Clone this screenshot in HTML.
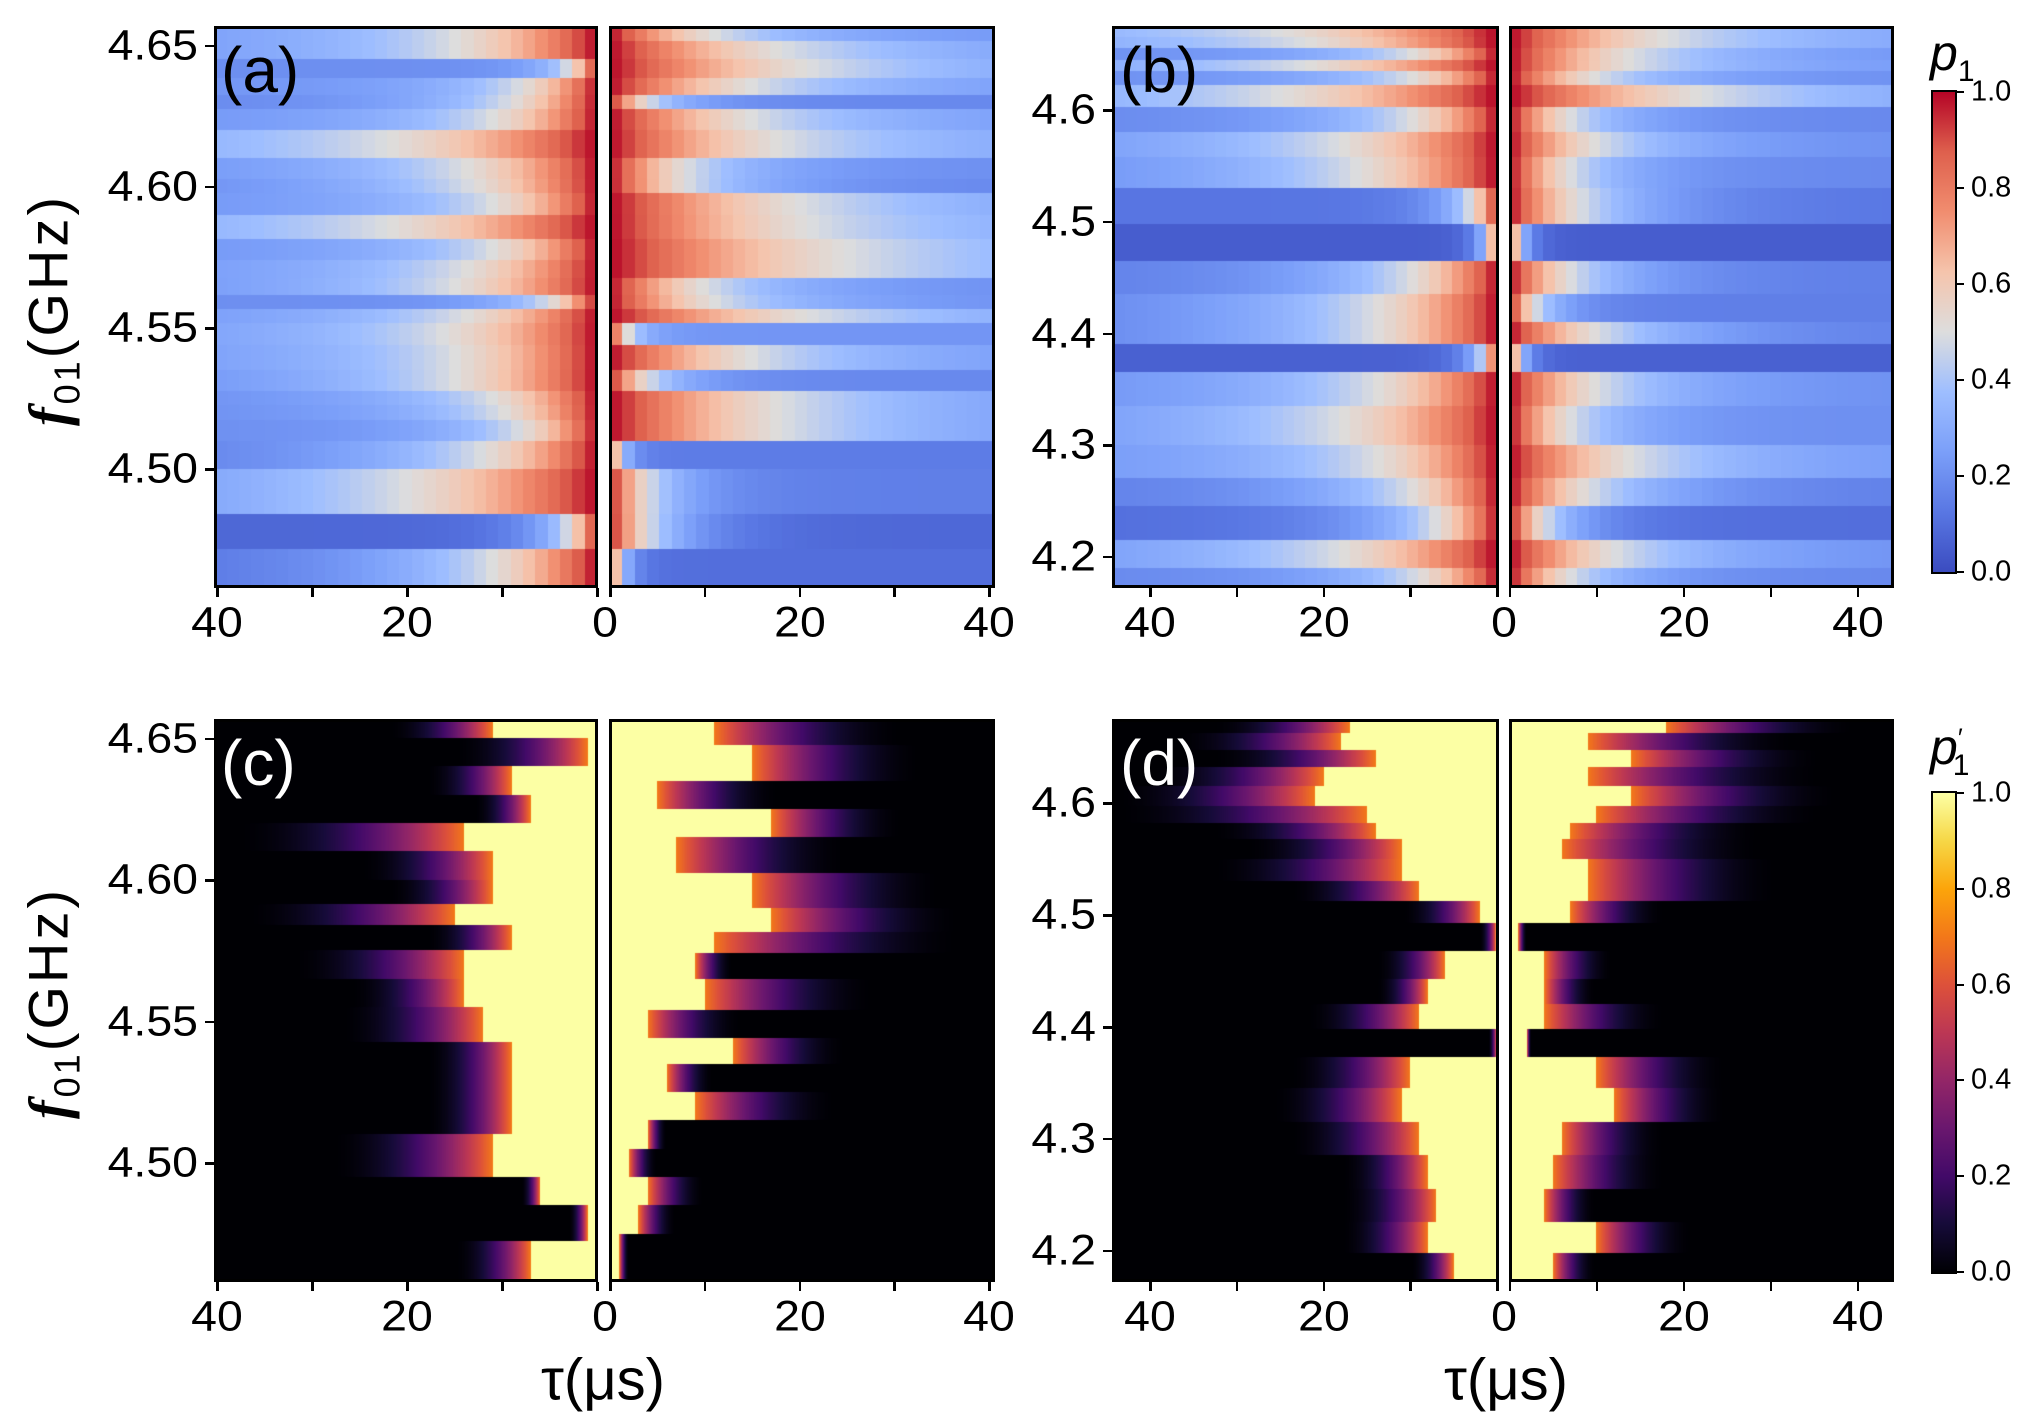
<!DOCTYPE html>
<html><head><meta charset="utf-8">
<style>
html,body{margin:0;padding:0;background:#fff;}
#root{position:relative;width:2030px;height:1422px;overflow:hidden;background:#fff;font-family:"Liberation Sans",Arial,sans-serif;color:#000;}
.abs{position:absolute;}
canvas{position:absolute;display:block;}
.frame{position:absolute;border:3px solid #000;box-sizing:border-box;pointer-events:none;}
.tl{position:absolute;font-size:43px;line-height:1;white-space:nowrap;transform-origin:center;}
.cbl{position:absolute;font-size:29px;line-height:1;white-space:nowrap;}
.tick{position:absolute;background:#000;}
.plab{position:absolute;font-size:64px;line-height:1;}
.cbar{position:absolute;border:2px solid #000;box-sizing:border-box;}
</style></head>
<body>
<div id="root">
  <div class="abs" id="ylab-top" style="left:52px;top:310px;transform:translate(-50%,-50%) rotate(-90deg);font-size:56px;white-space:nowrap;letter-spacing:3px;"><i style="font-family:'Liberation Serif',serif;font-weight:bold;">f</i><sub style="font-size:36px;">01</sub>(GHz)</div>
  <div class="abs" id="ylab-bot" style="left:52px;top:1003px;transform:translate(-50%,-50%) rotate(-90deg);font-size:56px;white-space:nowrap;letter-spacing:3px;"><i style="font-family:'Liberation Serif',serif;font-weight:bold;">f</i><sub style="font-size:36px;">01</sub>(GHz)</div>
  <div class="abs" style="left:603px;top:1380px;transform:translate(-50%,-50%);font-size:58px;white-space:nowrap;">τ(μs)</div>
  <div class="abs" style="left:1506px;top:1380px;transform:translate(-50%,-50%);font-size:58px;white-space:nowrap;">τ(μs)</div>

  <div class="cbar" style="left:1931px;top:90px;width:26px;height:484px;background:linear-gradient(to top,#3b4cc0 0%,#5977e3 12.5%,#7b9ff9 25%,#9ebeff 37.5%,#dddddd 50%,#f5c4ac 62.5%,#f18d6f 75%,#de604d 87.5%,#b40426 100%);"></div>
  <div class="cbar" style="left:1931px;top:791px;width:26px;height:483px;background:linear-gradient(to top,#000004 0%,#160b39 10%,#420a68 20%,#6a176e 30%,#932667 40%,#bc3754 50%,#dd513a 60%,#f37819 70%,#fca50a 80%,#f6d746 90%,#fcffa4 100%);"></div>
  <div class="abs" style="left:1930px;top:28px;font-size:50px;line-height:1;"><i>p</i><sub style="font-size:30px;">1</sub></div>
  <div class="abs" style="left:1930px;top:722px;font-size:50px;line-height:1;"><i>p</i><sup style="font-size:26px;">′</sup><sub style="font-size:30px;margin-left:-10px;">1</sub></div>
</div>
<script>
// ---------- data: panel (a) rows (GHz), crossover times (us), floor values ----------
const freqA = [4.655,4.648,4.642,4.635,4.63,4.625,4.615,4.605,4.6,4.595,4.585,4.578,4.57,4.565,4.558,4.555,4.548,4.54,4.53,4.525,4.52,4.515,4.505,4.495,4.49,4.478,4.465];
const crossA_left = [15,15,3,8,9,11,22,14,13,11,22,11,14,15,5,14,16,15,15,11,10,8,12,20,20,3,11];
const crossA_right = [11,18,21,15,4,15,18,8,8,20,21,25,25,10,11,21,2,15,4,18,18,18,1,4,4,4,1];
const floorA = [0.22,0.22,0.2,0.22,0.18,0.22,0.25,0.2,0.18,0.22,0.25,0.22,0.22,0.2,0.2,0.22,0.22,0.22,0.18,0.2,0.2,0.2,0.14,0.15,0.15,0.08,0.1];
// ---------- panel (b) ----------
const freqB = [4.67,4.66,4.65,4.64,4.63,4.615,4.59,4.57,4.545,4.515,4.48,4.45,4.42,4.40,4.38,4.35,4.32,4.28,4.26,4.23,4.2,4.18];
const crossB_left = [25,22,10,22,10,25,10,18,16,3,1,10,14,14,1.5,14,18,14,10,7,18,9];
const crossB_right = [18,18,14,14,10,22,7,10,7,8,1,7,3,10,1,10,7,14,9,4,12,7];
const floorB = [0.25,0.25,0.2,0.22,0.2,0.22,0.18,0.2,0.18,0.12,0.05,0.15,0.15,0.15,0.06,0.2,0.2,0.22,0.15,0.1,0.2,0.18];
// ---------- panel (c): yellow edge and fringe extent (us) ----------
const freqC_left = [4.655,4.645,4.635,4.625,4.615,4.605,4.595,4.588,4.58,4.57,4.56,4.55,4.535,4.52,4.50,4.49,4.48,4.465];
const edgeC_left = [11,1,9,7,14,11,11,15,9,14,14,12,9,9,11,6,1,7];
const fringeC_left = [22,15,18,13,38,25,22,37,18,32,26,27,18,18,28,8,3,15];
const freqC_right = [4.655,4.64,4.63,4.62,4.61,4.595,4.585,4.578,4.57,4.56,4.548,4.54,4.53,4.52,4.51,4.50,4.49,4.48,4.47];
const edgeC_right = [11,15,5,17,7,15,17,11,9,10,4,13,6,9,4,2,4,3,1];
const fringeC_right = [31,33,18,31,25,35,37,37,13,28,14,25,11,24,6,5,10,7,2];
// ---------- panel (d) ----------
const freqD = [4.67,4.655,4.64,4.625,4.605,4.59,4.575,4.56,4.54,4.52,4.505,4.48,4.455,4.43,4.41,4.385,4.36,4.33,4.30,4.27,4.24,4.21,4.185];
const edgeD_left = [17,18,14,20,21,15,14,11,11,9,2,0.1,6,8,9,0,10,11,9,8,7,8,5];
const fringeD_left = [33,37,33,40,44,44,33,29,33,24,11,2,14,14,22,1,24,26,24,18,18,18,10];
const edgeD_right = [18,9,14,9,14,10,7,6,9,9,7,1,4,4,4,2,10,12,6,5,4,10,5];
const fringeD_right = [40,33,36,36,38,36,29,29,31,31,18,2,12,10,18,2,25,25,18,18,10,21,10];
// ---------- tick labels ----------
const yTicksAC = [4.50,4.55,4.60,4.65];
const yTicksBD = [4.2,4.3,4.4,4.5,4.6];
const xTicks = [0,10,20,30,40];
const xTickLabels = [20,40];
const cbTicks = [0.0,0.2,0.4,0.6,0.8,1.0];

const root = document.getElementById('root');
const coolwarm = [[59,76,192],[89,119,227],[123,159,249],[158,190,255],[221,221,221],[245,196,172],[241,141,111],[222,96,77],[180,4,38]];
const inferno = [[0,0,4],[22,11,57],[66,10,104],[106,23,110],[147,38,103],[188,55,84],[221,81,58],[243,120,25],[252,165,10],[246,215,70],[252,255,164]];
function cmap(stops,v){v=Math.max(0,Math.min(1,v));const n=stops.length-1;const f=v*n;const i=Math.min(n-1,Math.floor(f));const u=f-i;const a=stops[i],b=stops[i+1];return 'rgb('+Math.round(a[0]+(b[0]-a[0])*u)+','+Math.round(a[1]+(b[1]-a[1])*u)+','+Math.round(a[2]+(b[2]-a[2])*u)+')';}

const geo = {
  a:{y0:27,y1:587,fTop:4.6566,fBot:4.4584,L:{x0:215,x1:597,t0x:597,s:9.5},R:{x0:610,x1:994,t0x:610,s:9.475}},
  b:{y0:27,y1:587,fTop:4.6746,fBot:4.173,L:{x0:1113,x1:1498,t0x:1497,s:8.675},R:{x0:1510,x1:1893,t0x:1509.5,s:8.7}},
  c:{y0:720,y1:1281,fTop:4.6566,fBot:4.4584,L:{x0:215,x1:597,t0x:597,s:9.5},R:{x0:610,x1:994,t0x:610,s:9.475}},
  d:{y0:720,y1:1281,fTop:4.6746,fBot:4.173,L:{x0:1113,x1:1498,t0x:1497,s:8.675},R:{x0:1510,x1:1893,t0x:1509.5,s:8.7}}
};
function fy(g,f){return g.y0+(g.fTop-f)/(g.fTop-g.fBot)*(g.y1-g.y0);}
function rowBounds(g,freqs){
  const b=[];
  for(let i=0;i<freqs.length;i++){
    const top = i===0? g.y0 : fy(g,(freqs[i-1]+freqs[i])/2);
    const bot = i===freqs.length-1? g.y1 : fy(g,(freqs[i]+freqs[i+1])/2);
    b.push([top,bot]);
  }
  return b;
}
function makeCanvas(side,g,name){
  const c=document.createElement('canvas');
  
  
  const w=side.x1-side.x0, h=g.y1-g.y0;
  c.width=w;c.height=h;
  c.style.left=side.x0+'px';c.style.top=g.y0+'px';c.style.width=w+'px';c.style.height=h+'px';
  root.appendChild(c);
  const fr=document.createElement('div');
  fr.className='frame';
  
  
  fr.style.left=(side.x0-1)+'px';fr.style.top=(g.y0-1)+'px';fr.style.width=(w+2)+'px';fr.style.height=(h+2)+'px';
  root.appendChild(fr);
  return c.getContext('2d');
}
function tAt(side,isLeft,px){const x=side.x0+px+0.5;return isLeft?(side.t0x-x)/side.s:(x-side.t0x)/side.s;}

function drawTop(letter,freqs,cross,floors,isLeft,name){
  const g=geo[letter],side=isLeft?g.L:g.R;
  const ctx=makeCanvas(side,g,name);
  const rb=rowBounds(g,freqs);
  const w=side.x1-side.x0;
  const cell=1.3;
  for(let i=0;i<freqs.length;i++){
    const b=floors[i];
    const T=Math.max(0.3,cross[i]/Math.log((1-b)/(0.5-b)));
    for(let px=0;px<w;px++){
      let t=Math.max(0,tAt(side,isLeft,px));
      t=Math.floor(t/cell)*cell+cell/2;
      const v=b+(1-b)*Math.exp(-t/T);
      ctx.fillStyle=cmap(coolwarm,v);
      ctx.fillRect(px,Math.floor(rb[i][0]-g.y0),1,Math.ceil(rb[i][1]-rb[i][0])+1);
    }
  }
}
function drawBot(letter,freqs,edge,fringe,isLeft,name){
  const g=geo[letter],side=isLeft?g.L:g.R;
  const ctx=makeCanvas(side,g,name);
  const rb=rowBounds(g,freqs);
  const w=side.x1-side.x0;
  for(let i=0;i<freqs.length;i++){
    const Y=edge[i],F=Math.max(fringe[i],edge[i]+0.5);
    for(let px=0;px<w;px++){
      const t=tAt(side,isLeft,px);
      let v;
      if(t<Y)v=1;else if(t<F){const u=1-(t-Y)/(F-Y);v=0.7*u*u;}else v=0;
      ctx.fillStyle=cmap(inferno,v);
      ctx.fillRect(px,Math.floor(rb[i][0]-g.y0),1,Math.ceil(rb[i][1]-rb[i][0])+1);
    }
  }
}
drawTop('a',freqA,crossA_left,floorA,true,'heatmap-a-left');
drawTop('a',freqA,crossA_right,floorA,false,'heatmap-a-right');
drawTop('b',freqB,crossB_left,floorB,true,'heatmap-b-left');
drawTop('b',freqB,crossB_right,floorB,false,'heatmap-b-right');
drawBot('c',freqC_left,edgeC_left,fringeC_left,true,'heatmap-c-left');
drawBot('c',freqC_right,edgeC_right,fringeC_right,false,'heatmap-c-right');
drawBot('d',freqD,edgeD_left,fringeD_left,true,'heatmap-d-left');
drawBot('d',freqD,edgeD_right,fringeD_right,false,'heatmap-d-right');

function addTick(x,y,w,h,name){
  const d=document.createElement('div');d.className='tick';
  
  
  d.style.left=x+'px';d.style.top=y+'px';d.style.width=w+'px';d.style.height=h+'px';root.appendChild(d);
}
function addLabel(text,x,y,align,cls,name){
  const d=document.createElement('div');d.className=cls;
  
  
  d.textContent=text;d.style.top=y+'px';
  if(align==='right'){d.style.left=x+'px';d.style.transform='translate(-100%,-50%) scaleX(1.08)';d.style.transformOrigin='right center';}
  else if(align==='left'){d.style.left=x+'px';d.style.transform='translate(0,-50%)';}
  else {d.style.left=x+'px';d.style.transform='translate(-50%,-50%) scaleX(1.08)';}
  root.appendChild(d);
}
['a','b','c','d'].forEach(function(k){
  const g=geo[k];
  const yt=(k==='a'||k==='c')?yTicksAC:yTicksBD;
  const dec=(k==='a'||k==='c')?2:1;
  yt.forEach(function(f){
    const y=fy(g,f);
    addTick(g.L.x0-10,y-1,10,2.5,'y-tick-'+k);
    addLabel(f.toFixed(dec),g.L.x0-17,y,'right','tl','y-tick-label-'+k);
  });
  [['L',true],['R',false]].forEach(function(p){
    const s=g[p[0]];
    xTicks.forEach(function(t){
      const x=p[1]?s.t0x-t*s.s:s.t0x+t*s.s;
      addTick(x-1,g.y1+1,2.5,9,'x-tick-'+k);
    });
    xTickLabels.forEach(function(t){
      const x=p[1]?s.t0x-t*s.s:s.t0x+t*s.s;
      addLabel(String(t),x,g.y1+36,'center','tl','x-tick-label-'+k);
    });
  });
  addLabel('0',(g.L.t0x+g.R.t0x)/2+1,g.y1+36,'center','tl','x-tick-label-zero-'+k);
});
[[90,574],[791,1274]].forEach(function(cb,j){
  cbTicks.forEach(function(v){
    const y=cb[1]-2-v*(cb[1]-cb[0]-4);
    addTick(1957,y-1,7,2,'colorbar-tick');
    addLabel(v.toFixed(1),1971,y,'left','cbl','colorbar-tick-label');
  });
});
[['(a)',221,70,'#000'],['(b)',1120,70,'#000'],['(c)',221,763,'#fff'],['(d)',1120,763,'#fff']].forEach(function(p){
  const d=document.createElement('div');d.className='plab';
  
  
  d.textContent=p[0];d.style.left=p[1]+'px';d.style.top=p[2]+'px';d.style.color=p[3];
  d.style.transform='translateY(-50%)';root.appendChild(d);
});
</script>
</body></html>
